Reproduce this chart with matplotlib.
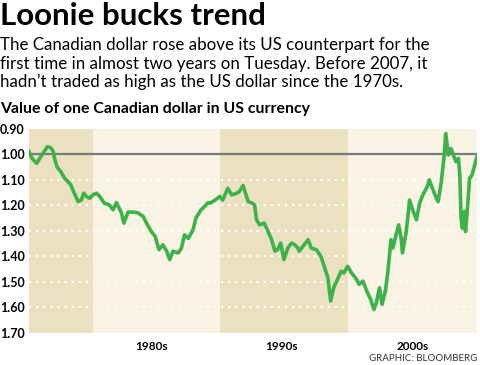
import matplotlib
matplotlib.use("Agg")
import matplotlib.pyplot as plt

# CAD per USD (axis inverted: higher loonie at top)
years = [1975.0, 1975.24, 1975.6, 1975.84, 1976.1, 1976.45, 1976.7, 1976.9,
         1977.0, 1977.2, 1977.5, 1977.8, 1978.06, 1978.27, 1978.5, 1978.85,
         1979.1, 1979.3, 1979.5, 1979.76, 1980.0, 1980.3, 1980.55, 1980.9,
         1981.3, 1981.6, 1981.86, 1982.25, 1982.45, 1982.77, 1983.16, 1983.55,
         1983.95, 1984.3, 1984.6, 1984.9, 1985.2, 1985.5, 1985.8, 1986.04,
         1986.3, 1986.7, 1986.96, 1987.2, 1987.5, 1987.87, 1988.1, 1988.5,
         1988.7, 1989.05, 1989.2, 1989.6, 1989.96, 1990.2, 1990.6, 1990.9,
         1991.3, 1991.5, 1991.8, 1991.9, 1992.2, 1992.5, 1992.7, 1992.85,
         1993.1, 1993.45, 1993.75, 1994.0, 1994.3, 1994.5, 1994.75, 1995.0,
         1995.3, 1995.6, 1995.85, 1996.1, 1996.2, 1996.5, 1996.9, 1997.15,
         1997.55, 1997.9, 1998.2, 1998.45, 1998.67, 1998.9, 1999.2, 1999.5,
         1999.7, 2000.0, 2000.3, 2000.7, 2000.9, 2001.2, 2001.5, 2001.8,
         2002.06, 2002.25, 2002.5, 2002.7, 2002.96, 2003.16, 2003.4, 2003.55,
         2003.8, 2004.0, 2004.2, 2004.3, 2004.6, 2004.86, 2005.1, 2005.4,
         2005.65, 2005.9, 2006.25, 2006.4, 2006.7, 2006.96, 2007.1, 2007.35,
         2007.55, 2007.7, 2007.9, 2008.1, 2008.3, 2008.5, 2008.7, 2008.8,
         2008.9, 2009.0, 2009.15, 2009.25, 2009.4, 2009.57, 2009.76, 2009.97,
         2010.15]
cad_per_usd = [0.99, 1.017, 1.036, 1.017, 0.997, 0.971, 0.975, 0.99,
               1.017, 1.05, 1.069, 1.095, 1.108, 1.12, 1.147, 1.186,
               1.18, 1.153, 1.166, 1.173, 1.16, 1.153, 1.166, 1.192,
               1.199, 1.218, 1.19, 1.23, 1.27, 1.227, 1.227, 1.23,
               1.244, 1.277, 1.303, 1.322, 1.374, 1.355, 1.38, 1.413,
               1.38, 1.387, 1.368, 1.316, 1.33, 1.296, 1.25, 1.218,
               1.209, 1.19, 1.192, 1.18, 1.166, 1.18, 1.134, 1.16,
               1.153, 1.147, 1.123, 1.14, 1.186, 1.192, 1.199, 1.257,
               1.277, 1.27, 1.303, 1.33, 1.38, 1.374, 1.348, 1.413,
               1.368, 1.348, 1.355, 1.368, 1.38, 1.361, 1.335, 1.368,
               1.374, 1.40, 1.445, 1.484, 1.575, 1.523, 1.49, 1.458,
               1.465, 1.439, 1.465, 1.49, 1.51, 1.497, 1.536, 1.568,
               1.608, 1.582, 1.523, 1.588, 1.536, 1.458, 1.335, 1.368,
               1.316, 1.277, 1.329, 1.387, 1.303, 1.18, 1.218, 1.257,
               1.192, 1.16, 1.127, 1.101, 1.14, 1.173, 1.186, 1.108,
               1.017, 0.92, 1.004, 0.978, 1.004, 1.03, 1.017, 1.082,
               1.25, 1.29, 1.225, 1.303, 1.212, 1.095, 1.082, 1.043,
               1.01]

band_edges = [1975.0, 1980.0, 1990.0, 2000.0, 2010.15]
band_colors = ["#ebe1c0", "#f8f3e2", "#ebe1c0", "#f8f3e2"]
y_ticks = [0.90, 1.00, 1.10, 1.20, 1.30, 1.40, 1.50, 1.60, 1.70]
grid_levels = [1.10, 1.20, 1.30, 1.40, 1.50, 1.60]
decade_pos = [1984.6, 1994.8, 2005.1]
decade_labels = ["1980s", "1990s", "2000s"]

FONT = ["Lato", "DejaVu Sans"]
plt.rcParams["font.family"] = FONT

fig = plt.figure(figsize=(4.8, 3.65), dpi=100)
ax = fig.add_axes([29 / 480, 1 - 333 / 365, 448 / 480, (333 - 128.5) / 365])

for i, c in enumerate(band_colors):
    ax.axvspan(band_edges[i], band_edges[i + 1], color=c, lw=0, zorder=0)
for g in grid_levels:
    ax.axhline(g, color="white", lw=1.6, ls=(0, (1, 2.2)), zorder=1)
ax.axhline(1.00, color="#7a7a7a", lw=1.6, zorder=2)

ax.plot(years, cad_per_usd, color="#3db24b", lw=2.6, zorder=3,
        solid_joinstyle="round")

ax.set_xlim(band_edges[0], band_edges[-1])
ax.set_ylim(1.70, 0.90)
ax.set_yticks(y_ticks)
ax.set_yticklabels([f"{v:.2f}" for v in y_ticks], fontweight="bold",
                   fontsize=9)
ax.set_xticks(decade_pos)
ax.set_xticklabels(decade_labels, fontweight="bold", fontsize=8.5)
ax.tick_params(length=0, pad=3)
ax.tick_params(axis="x", pad=6)
for s in ax.spines.values():
    s.set_visible(False)

fig.text(0.0, 1 - 25 / 365, "Loonie bucks trend", fontsize=22.5,
         fontweight="bold", va="baseline")
sub = ["The Canadian dollar rose above its US counterpart for the",
       "first time in almost two years on Tuesday. Before 2007, it",
       "hadn\u2019t traded as high as the US dollar since the 1970s."]
for i, line in enumerate(sub):
    fig.text(0.0, 1 - (50 + i * 18.5) / 365, line, fontsize=12.2,
             va="baseline")
fig.text(0.0, 1 - 113 / 365, "Value of one Canadian dollar in US currency",
         fontsize=11.4, fontweight="bold", va="baseline")
fig.text(0.995, 1 - 361 / 365, "GRAPHIC: BLOOMBERG", fontsize=7,
         ha="right", va="baseline", color="#333333")

fig.savefig("out.png", dpi=100)
